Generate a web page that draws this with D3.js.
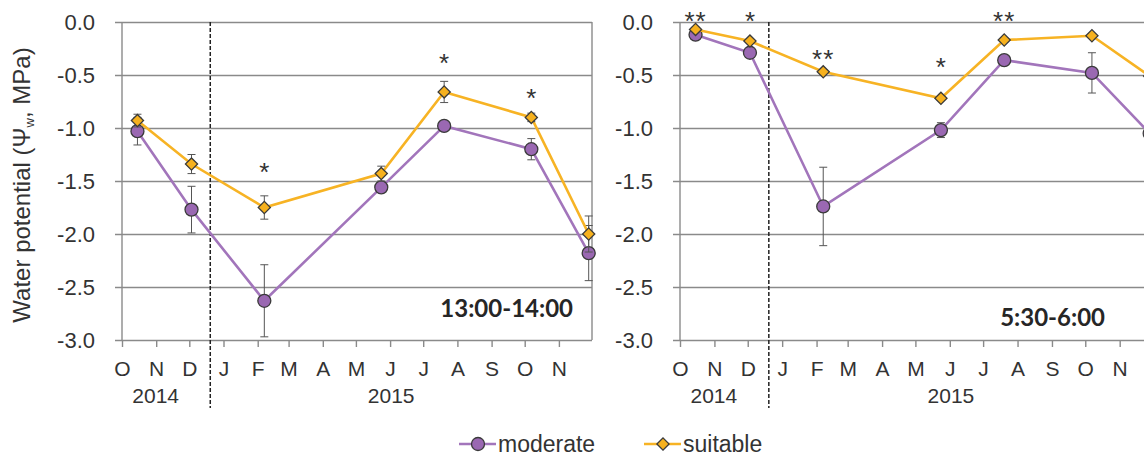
<!DOCTYPE html>
<html>
<head>
<meta charset="utf-8">
<script src="https://cdn.jsdelivr.net/npm/d3@7"></script>
<style>
  body { margin: 0; background: #fff; }
  svg { display: block; }
</style>
</head>
<body>
<svg id="chart"></svg>
<script>
const width = 1144, height = 457
const fontFamily = "'Liberation Sans', Arial, sans-serif"

// sampling dates, same for both panels
const sampleDates = ["2014-10-15", "2014-12-03", "2015-02-07", "2015-05-24", "2015-07-20", "2015-10-07", "2015-11-28"]
const monthLabels = ["O", "N", "D", "J", "F", "M", "A", "M", "J", "J", "A", "S", "O", "N"]
const yearLabels = ["2014", "2015"]
const yTicks = [0, -0.5, -1, -1.5, -2, -2.5, -3]
const seriesNames = ["moderate", "suitable"]

// 13:00-14:00
const moderateMidday = [-1.03, -1.77, -2.63, -1.56, -0.98, -1.20, -2.18]
const moderateMiddayErr = [0.13, 0.22, 0.34, 0.04, 0.04, 0.10, 0.26]
const suitableMidday = [-0.93, -1.34, -1.75, -1.43, -0.66, -0.90, -2.00]
const suitableMiddayErr = [0.06, 0.09, 0.11, 0.07, 0.10, 0.04, 0.17]
const starsMidday = ["", "", "*", "", "*", "*", ""]
const starLevelMidday = [null, null, -1.36, null, -0.33, -0.66, null]

// 5:30-6:00
const moderateDawn = [-0.12, -0.29, -1.74, -1.02, -0.36, -0.48, -1.05]
const moderateDawnErr = [0.02, 0.03, 0.37, 0.07, 0.03, 0.19, 0.05]
const suitableDawn = [-0.07, -0.18, -0.47, -0.72, -0.17, -0.13, -0.51]
const suitableDawnErr = [0.02, 0.02, 0.02, 0.02, 0.02, 0.02, 0.02]
const starsDawn = ["**", "*", "**", "*", "**", "", ""]
const starLevelDawn = [0.07, 0.07, -0.29, -0.37, 0.07, null, null]

const colors = {
    moderate: {line: "#a275bb", fill: "#9a68b2"},
    suitable: {line: "#f7b324", fill: "#f6b11e"}
}
const gridColor = "#8a8a8a"
const textColor = "#333"

const parse = d3.timeParse("%Y-%m-%d")
const svg = d3.select("#chart").attr("width", width).attr("height", height)

function drawMarker(g, kind, cx, cy) {
    if (kind === "moderate") {
        g.append("circle").attr("cx", cx).attr("cy", cy).attr("r", 6.5)
            .attr("fill", colors.moderate.fill).attr("stroke", "#3a3a3a").attr("stroke-width", 1.3)
    } else {
        g.append("path").attr("d", d3.symbol(d3.symbolSquare, 74)())
            .attr("transform", `translate(${cx},${cy}) rotate(45)`)
            .attr("fill", colors.suitable.fill).attr("stroke", "#3a3a3a").attr("stroke-width", 1.3)
    }
}

function drawPanel(p) {
    const top = 22, bottom = 340
    const x = d3.scaleTime()
        .domain([new Date(2014, 9, 1), new Date(2015, 11, 1)])
        .range([p.left, p.right])
    const y = d3.scaleLinear().domain([-3, 0]).range([bottom, top])
    const g = svg.append("g")

    // horizontal grid + y labels
    const yAxis = d3.axisLeft(y).tickValues(yTicks)
        .tickSize(-(p.right - p.left)).tickSizeOuter(0).tickPadding(27)
        .tickFormat(d => d.toFixed(1))
    const ga = g.append("g").attr("transform", `translate(${p.left},0)`).call(yAxis)
    ga.select(".domain").remove()
    ga.selectAll(".tick line").attr("x1", -7).attr("stroke", gridColor).attr("stroke-width", 1.4)
    ga.selectAll(".tick text").attr("font-family", fontFamily).attr("font-size", 22).attr("fill", textColor)

    // vertical frame lines
    g.append("line").attr("x1", p.left).attr("x2", p.left).attr("y1", top).attr("y2", bottom)
        .attr("stroke", gridColor).attr("stroke-width", 1.4)
    g.append("line").attr("x1", p.right).attr("x2", p.right).attr("y1", top).attr("y2", bottom)
        .attr("stroke", gridColor).attr("stroke-width", 1.4)

    // x axis
    const monthDates = d3.timeMonth.range(new Date(2014, 9, 1), new Date(2015, 11, 1))
    const xAxis = d3.axisBottom(x).tickValues(monthDates)
        .tickFormat((d, i) => monthLabels[i]).tickSize(7).tickPadding(14).tickSizeOuter(0)
    const gx = g.append("g").attr("transform", `translate(0,${bottom})`).call(xAxis)
    gx.select(".domain").remove()
    gx.selectAll(".tick line").attr("stroke", gridColor).attr("stroke-width", 1.4)
    gx.selectAll(".tick text").attr("font-family", fontFamily).attr("font-size", 21).attr("fill", textColor)

    // year labels
    const yearSpans = [[0, 2], [3, 13]]
    yearLabels.forEach((yl, i) => {
        const cx = (x(monthDates[yearSpans[i][0]]) + x(monthDates[yearSpans[i][1]])) / 2
        g.append("text").attr("x", cx).attr("y", 403)
            .attr("text-anchor", "middle").attr("font-family", fontFamily)
            .attr("font-size", 21).attr("fill", textColor).text(yl)
    })

    // year separator
    const sep = x(new Date(2014, 11, 20))
    g.append("line").attr("x1", sep).attr("x2", sep).attr("y1", top).attr("y2", 408)
        .attr("stroke", "#222").attr("stroke-width", 1.5).attr("stroke-dasharray", "4,2")

    const dates = sampleDates.map(parse)
    const line = d3.line().x(d => x(d[0])).y(d => y(d[1]))

    p.series.forEach(s => {
        const pts = dates.map((d, i) => [d, s.values[i], s.err[i]])
        g.append("path").datum(pts).attr("d", line)
            .attr("fill", "none").attr("stroke", colors[s.name].line).attr("stroke-width", 2.6)
        pts.forEach(pt => {
            const cx = x(pt[0])
            const y1 = y(pt[1] + pt[2]), y2 = y(pt[1] - pt[2])
            g.append("line").attr("x1", cx).attr("x2", cx).attr("y1", y1).attr("y2", y2)
                .attr("stroke", "#555").attr("stroke-width", 1)
            ;[y1, y2].forEach(yy => g.append("line")
                .attr("x1", cx - 4).attr("x2", cx + 4).attr("y1", yy).attr("y2", yy)
                .attr("stroke", "#555").attr("stroke-width", 1))
        })
        pts.forEach(pt => drawMarker(g, s.name, x(pt[0]), y(pt[1])))
    })

    // significance stars
    p.stars.forEach((st, i) => {
        if (!st) return
        g.append("text").attr("x", x(dates[i])).attr("y", y(p.starLevels[i]) + 15)
            .attr("text-anchor", "middle").attr("font-family", fontFamily)
            .attr("font-size", 26).attr("letter-spacing", st.length > 1 ? 1 : 0)
            .attr("fill", textColor).text(st)
    })

    // time of day label
    g.append("text").attr("x", p.labelX).attr("y", p.labelY)
        .attr("text-anchor", "end").attr("font-family", "Lato, 'Open Sans', sans-serif")
        .attr("font-weight", "bold").attr("font-size", 24).attr("fill", "#262626")
        .text(p.label)
}

drawPanel({
    left: 122, right: 592, label: "13:00-14:00", labelX: 573, labelY: 317,
    series: [
        {name: "moderate", values: moderateMidday, err: moderateMiddayErr},
        {name: "suitable", values: suitableMidday, err: suitableMiddayErr}
    ],
    stars: starsMidday, starLevels: starLevelMidday
})
drawPanel({
    left: 680, right: 1153, label: "5:30-6:00", labelX: 1105, labelY: 326,
    series: [
        {name: "moderate", values: moderateDawn, err: moderateDawnErr},
        {name: "suitable", values: suitableDawn, err: suitableDawnErr}
    ],
    stars: starsDawn, starLevels: starLevelDawn
})

// y axis title
const title = svg.append("text")
    .attr("transform", "translate(29.5,185) rotate(-90)")
    .attr("text-anchor", "middle").attr("font-family", fontFamily)
    .attr("font-size", 24).attr("fill", textColor)
title.append("tspan").text("Water potential (Ψ")
title.append("tspan").attr("font-size", 13).attr("dy", 4).text("w")
title.append("tspan").attr("dy", -4).text(", MPa)")

// legend
const legend = svg.append("g")
const legendPos = [{x: 459, tx: 498}, {x: 644, tx: 683}]
seriesNames.forEach((name, i) => {
    const lp = legendPos[i]
    legend.append("line").attr("x1", lp.x).attr("x2", lp.x + 37).attr("y1", 444).attr("y2", 444)
        .attr("stroke", colors[name].line).attr("stroke-width", 2.6)
    drawMarker(legend, name, lp.x + 19, 444)
    legend.append("text").attr("x", lp.tx).attr("y", 452)
        .attr("font-family", fontFamily).attr("font-size", 23).attr("fill", textColor)
        .text(name)
})
</script>
</body>
</html>
